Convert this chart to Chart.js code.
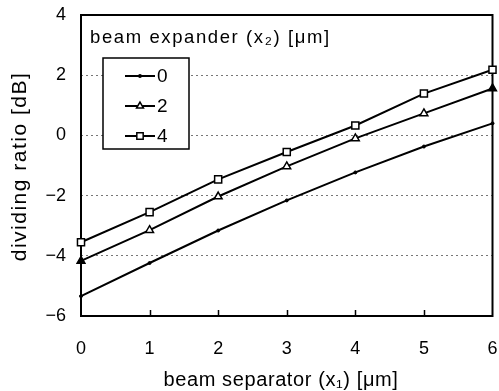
<!DOCTYPE html>
<html>
<head>
<meta charset="utf-8">
<script src="https://cdn.jsdelivr.net/npm/chart.js@4"></script>
<style>
  html, body { margin: 0; padding: 0; background: #fff; }
  #wrap { width: 499px; height: 391px; }
</style>
</head>
<body>
<div id="wrap"><canvas id="chart"></canvas></div>
<script>
// beam separator x1 [um]
const separator = [0, 1, 2, 3, 4, 5, 6];
// dividing ratio [dB] for each beam expander width x2
const expander0 = [-5.34, -4.24, -3.16, -2.16, -1.23, -0.37, 0.40];
const expander2 = [-4.17, -3.15, -2.03, -1.03, -0.10, 0.73, 1.56];
const expander4 = [-3.55, -2.55, -1.46, -0.55, 0.33, 1.39, 2.18];
const seriesLabels = ['0', '2', '4'];
const xTicks = [0, 1, 2, 3, 4, 5, 6];
const yTicks = [-6, -4, -2, 0, 2, 4];
const legendTitle = 'beam expander (x\u2082) [\u03bcm]';
const xTitle = 'beam separator (x\u2081) [\u03bcm]';
const yTitle = 'dividing ratio [dB]';

const FONT = '"Liberation Sans", Arial, Helvetica, sans-serif';

function toPoints(values) {
    return separator.map((x, i) => ({ x: x, y: values[i] }));
}

// filled triangles at the two ends, open ones in between
const triFill = separator.map((x, i) => (i === 0 || i === separator.length - 1) ? '#000' : '#fff');

// spaced-out text, like the old typesetting
function spacedText(ctx, text, x, y, spacing) {
    ctx.letterSpacing = spacing + 'px';
    ctx.fillText(text, x, y);
    ctx.letterSpacing = '0px';
}

// frame, inward x ticks, axis titles and the boxed legend
const framePlugin = {
    id: 'frame',
    beforeDatasetsDraw(chart) {
        const ctx = chart.ctx;
        const a = chart.chartArea;
        ctx.save();
        ctx.strokeStyle = '#000';
        ctx.lineWidth = 2;
        ctx.strokeRect(a.left, a.top, a.right - a.left, a.bottom - a.top);
        ctx.restore();
    },
    afterDatasetsDraw(chart) {
        const ctx = chart.ctx;
        const a = chart.chartArea;
        const xs = chart.scales.x;
        ctx.save();
        ctx.strokeStyle = '#000';
        ctx.lineWidth = 1.5;
        xTicks.forEach(v => {
            if (v === xTicks[0] || v === xTicks[xTicks.length - 1]) return;
            const px = Math.round(xs.getPixelForValue(v)) + 0.5;
            ctx.beginPath();
            ctx.moveTo(px, a.bottom);
            ctx.lineTo(px, a.bottom - 6);
            ctx.stroke();
        });

        // axis titles
        ctx.fillStyle = '#000';
        ctx.textAlign = 'center';
        ctx.textBaseline = 'alphabetic';
        ctx.font = '20px ' + FONT;
        spacedText(ctx, xTitle, a.left + 200, 386, 0.6);

        ctx.save();
        ctx.translate(26, (a.top + a.bottom) / 2 + 1);
        ctx.rotate(-Math.PI / 2);
        ctx.font = '21px ' + FONT;
        spacedText(ctx, yTitle, 0, 0, 1.5);
        ctx.restore();

        // legend title
        ctx.textAlign = 'left';
        ctx.font = '18.5px ' + FONT;
        spacedText(ctx, legendTitle, a.left + 9, a.top + 28, 1.6);

        // legend box
        const bx = a.left + 22, by = a.top + 43, bw = 86, bh = 91;
        ctx.lineWidth = 1.5;
        ctx.fillStyle = '#fff';
        ctx.fillRect(bx, by, bw, bh);
        ctx.strokeRect(bx, by, bw, bh);

        chart.data.datasets.forEach((ds, i) => {
            const ry = by + 18 + i * 30;
            const x0 = bx + 22, x1 = bx + 52;
            ctx.strokeStyle = '#000';
            ctx.lineWidth = 2;
            ctx.beginPath();
            ctx.moveTo(x0, ry);
            ctx.lineTo(x1, ry);
            ctx.stroke();
            ctx.lineWidth = 1.5;
            ctx.fillStyle = ds.pointStyle === 'circle' ? '#000' : '#fff';
            Chart.helpers.drawPoint(ctx, {
                pointStyle: ds.pointStyle,
                radius: ds.legendRadius,
                rotation: 0,
                borderWidth: 1.5
            }, (x0 + x1) / 2, ry);
            ctx.fillStyle = '#000';
            ctx.font = '19px ' + FONT;
            ctx.textBaseline = 'middle';
            ctx.fillText(ds.label, x1 + 2, ry + 1);
        });
        ctx.restore();
    }
};

new Chart(document.getElementById('chart'), {
    type: 'line',
    data: {
        datasets: [
            {
                label: seriesLabels[0],
                data: toPoints(expander0),
                borderColor: '#000',
                borderWidth: 2,
                clip: 8,
                pointStyle: 'circle',
                pointRadius: 1.5,
                legendRadius: 1.2,
                pointBackgroundColor: '#000',
                pointBorderColor: '#000',
                pointBorderWidth: 1
            },
            {
                label: seriesLabels[1],
                data: toPoints(expander2),
                borderColor: '#000',
                borderWidth: 2,
                clip: 8,
                pointStyle: 'triangle',
                pointRadius: 4.5,
                legendRadius: 4,
                pointBackgroundColor: triFill,
                pointBorderColor: '#000',
                pointBorderWidth: 1.5
            },
            {
                label: seriesLabels[2],
                data: toPoints(expander4),
                borderColor: '#000',
                borderWidth: 2,
                clip: 8,
                pointStyle: 'rect',
                pointRadius: 5,
                legendRadius: 4.5,
                pointBackgroundColor: '#fff',
                pointBorderColor: '#000',
                pointBorderWidth: 1.5
            }
        ]
    },
    options: {
        responsive: true,
        maintainAspectRatio: false,
        animation: false,
        events: [],
        layout: { padding: { top: 15, right: 5, left: 0, bottom: 0 } },
        elements: { line: { tension: 0 } },
        plugins: {
            legend: { display: false },
            tooltip: { enabled: false }
        },
        scales: {
            x: {
                type: 'linear',
                min: 0,
                max: 6,
                afterBuildTicks: s => { s.ticks = xTicks.map(v => ({ value: v })); },
                afterFit: s => { s.height = 75; s.paddingLeft = 0; s.paddingRight = 0; },
                grid: { display: false, drawTicks: false },
                border: { display: false },
                ticks: {
                    color: '#000',
                    padding: 22,
                    maxRotation: 0,
                    font: { family: FONT, size: 18 }
                }
            },
            y: {
                min: -6,
                max: 4,
                afterBuildTicks: s => { s.ticks = yTicks.map(v => ({ value: v })); },
                afterFit: s => { s.width = 81; s.paddingTop = 0; s.paddingBottom = 0; },
                grid: {
                    drawTicks: false,
                    color: c => (c.tick && (c.tick.value === 4 || c.tick.value === -6)) ? 'rgba(0,0,0,0)' : '#777',
                    lineWidth: 1
                },
                border: { display: false, dash: [2, 3] },
                ticks: {
                    color: '#000',
                    padding: 15,
                    font: { family: FONT, size: 18 },
                    callback: v => String(v).replace('-', '\u2212')
                }
            }
        }
    },
    plugins: [framePlugin]
});
</script>
</body>
</html>
